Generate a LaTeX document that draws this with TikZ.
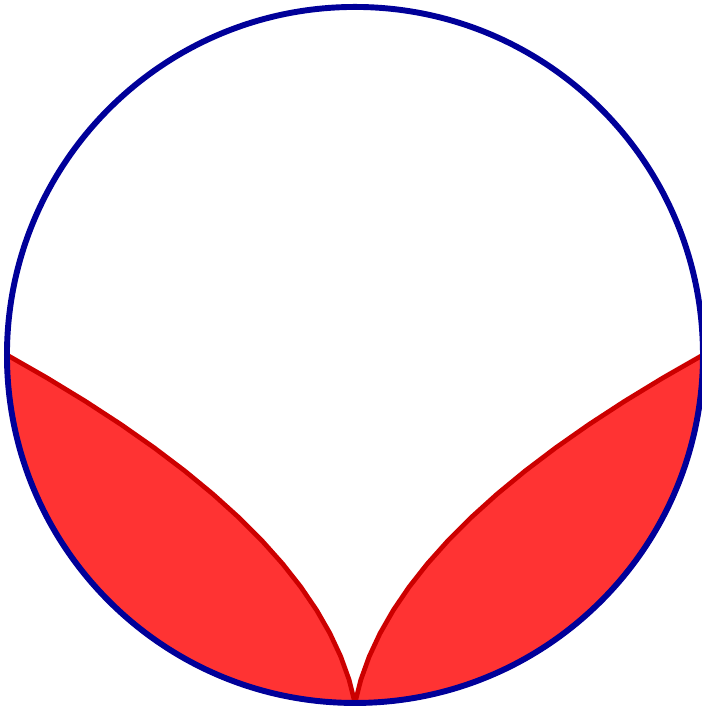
\documentclass[tikz,border=0pt]{standalone}
\usepackage{tikz}
\usetikzlibrary{calc}
\definecolor{RimBlue}{RGB}{0,0,153}
\definecolor{LeafRed}{RGB}{255,51,51}
\definecolor{EdgeRed}{RGB}{204,0,0}
\tikzset{
    rim/.style={draw=RimBlue, line width=1.45pt},
    leaf/.style={fill=LeafRed, draw=EdgeRed, line width=1.15pt, line join=round},
}
\begin{document}
\begin{tikzpicture}
\useasboundingbox (-3.060,-3.052) rectangle (2.991,3.060);
\def\rad{3}
\coordinate (O) at (0,0);
% left leaf
\path[leaf] plot[variable=\t, domain=1:0, samples=16] ({-\rad*(0.2*\t+0.8*\t*\t)}, {\rad*(\t-1)})
    arc[start angle=-90, end angle=-180, radius=\rad] -- cycle;
% right leaf
\path[leaf] plot[variable=\t, domain=1:0, samples=16] ({\rad*(0.2*\t+0.8*\t*\t)}, {\rad*(\t-1)})
    arc[start angle=-90, end angle=0, radius=\rad] -- cycle;
% outer circle
\draw[rim] (O) circle[radius=\rad];
\end{tikzpicture}
\end{document}
